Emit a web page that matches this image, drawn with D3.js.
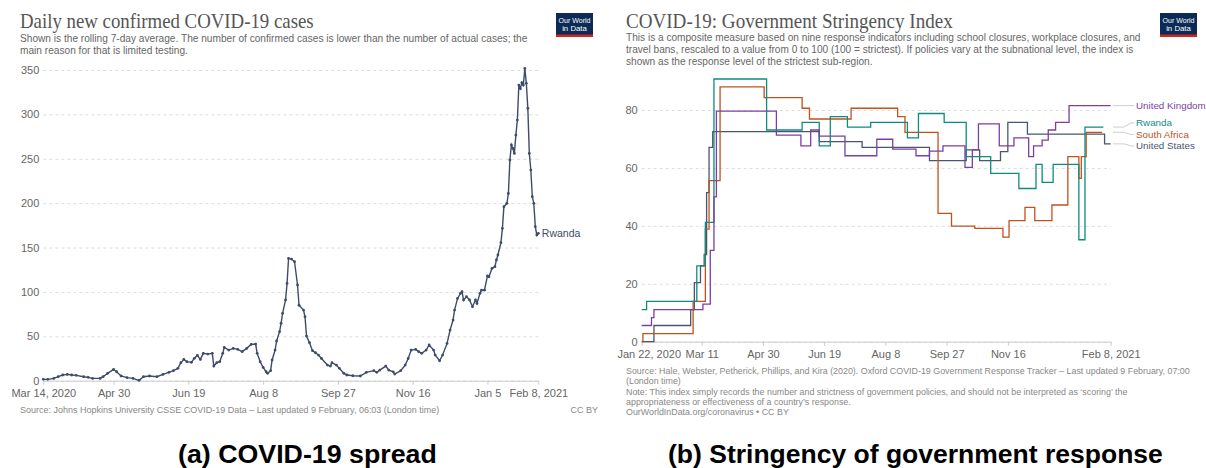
<!DOCTYPE html>
<html>
<head>
<meta charset="utf-8">
<script src="https://cdn.jsdelivr.net/npm/d3@7"></script>
<style>
  body { margin: 0; background: #fff; }
  svg { font-family: "Liberation Sans", Arial, sans-serif; }
</style>
</head>
<body>
<svg id="chart" width="1206" height="468"></svg>
<script>
// ---------- Daily new confirmed cases, Rwanda (7-day rolling average) ----------
// day offsets counted from 14 March 2020
const caseStart = "2020-03-14";
const caseDay = [0,3,7,10,13,16,19,22,27,30,33,38,40,43,47,49,52,56,60,64,67,71,76,80,84,87,90,92,94,96,
  99,101,103,105,107,110,113,114,116,118,120,121,124,127,130,133,136,139,142,143,145,147,149,150,152,153,155,156,158,159,
  160,162,163,164,166,168,170,171,174,175,176,178,180,182,184,186,190,192,193,196,198,201,203,207,212,216,221,223,225,229,
  231,234,235,239,242,244,246,249,251,253,256,258,261,262,265,267,270,272,274,275,277,279,280,281,283,285,287,289,290,292,
  293,295,297,298,300,302,303,304,306,307,308,310,311,312,313,314,315,316,317,318,319,320,321,322,323,324,325,326,327,328,
  329,330,331];
const caseValue = [1.5,1.5,2.6,4.5,6.4,7.1,6.4,6.0,4.5,3.8,2.6,2.6,4.5,8.3,12.8,10.1,5.3,3.4,2.6,0.4,4.5,5.3,4.5,7.1,9.4,11.3,13.9,20.3,24.0,21.4,
  20.7,25.2,28.5,24.0,30.8,30.0,30.8,16.5,20.3,21.4,30.8,37.5,34.5,36.4,35.3,32.7,36.4,40.9,41.3,30.8,21.4,15.0,10.1,8.3,11.3,23.3,34.5,44.7,55.2,64.6,
  75.9,90.9,109.6,137.8,137.0,134.0,107.8,85.0,79.6,72.0,50.3,42.8,33.8,31.5,28.9,25.0,17.6,16.5,20.3,17.6,13.9,8.3,6.4,5.6,5.3,9.4,11.3,9.4,12.0,16.5,
  12.0,10.0,7.5,11.3,17.6,25.0,34.5,35.3,32.7,30.8,34.5,40.2,34.5,28.9,22.5,28.9,42.0,57.0,68.3,79.6,92.7,98.4,100.3,90.9,94.6,90.9,83.4,90.9,87.1,98.4,
  102.0,102.0,118.0,117.0,126.5,128.4,136.0,141.6,155.5,171.6,196.0,199.8,211.0,248.6,265.5,261.7,256.0,276.7,293.6,333.0,329.0,335.7,333.0,351.8,335.0,306.8,256.0,237.3,207.3,199.8,
  173.5,164.0,166.0];
const caseXTicks = ["2020-03-14","2020-04-30","2020-06-19","2020-08-08","2020-09-27","2020-11-16","2021-01-05","2021-02-08"];
const caseXLabels = ["Mar 14, 2020","Apr 30","Jun 19","Aug 8","Sep 27","Nov 16","Jan 5","Feb 8, 2021"];
const caseYTicks = [0,50,100,150,200,250,300,350];

// ---------- Government Stringency Index (step changes: [day offset from 22 Jan 2020, index]) ----------
const indexStart = "2020-01-22";
const indexEnd = "2021-02-08";
const countries = ["United Kingdom","Rwanda","South Africa","United States"];
const countryColors = ["#7b3fa3","#0f8b80","#c0521c","#4a566e"];
const ukSteps = [[0,5.6],[8,8.3],[10,11.1],[50,13.0],[56,31.5],[59,50.0],[61,79.6],[110,71.3],[130,67.6],[138,73.1],[145,71.0],
  [166,64.2],[192,69.9],[205,66.5],[224,64.2],[235,65.8],[246,67.6],[264,60.2],[270,66.2],[275,75.2],[292,67.6],[304,70.4],
  [316,63.9],[320,67.6],[327,69.6],[332,73.1],[338,75.7],[349,81.5],[383,81.5]];
const rwandaSteps = [[0,11.1],[4,13.9],[45,26.2],[52,41.2],[59,90.7],[102,73.1],[131,75.7],[145,67.6],[154,77.7],[168,74.1],
  [187,75.7],[217,70.4],[226,78.8],[247,75.7],[265,63.9],[285,58.1],[308,52.9],[322,61.2],[327,55.0],[336,61.2],[357,35.2],
  [362,74.1],[377,74.1]];
const southAfricaSteps = [[0,0],[1,2.8],[42,13.9],[52,38.9],[55,55.6],[64,88.0],[100,84.3],[131,80.6],[137,76.9],[171,80.6],
  [209,77.7],[215,72.3],[242,44.3],[253,39.9],[272,39.1],[295,36.1],[300,41.8],[313,46.4],[321,41.8],[335,47.2],[348,63.9],
  [357,56.4],[359,63.9],[363,72.3],[376,72.3]];
const usSteps = [[0,0],[10,5.6],[40,11.1],[43,20.4],[48,26.2],[51,30.1],[53,51.5],[55,67.1],[58,72.5],[145,69.1],[180,67.1],
  [235,62.5],[265,66.2],[276,62.5],[293,65.6],[299,75.7],[315,71.7],[378,68.3],[383,68.3]];
const indexXTicks = ["2020-01-22","2020-03-11","2020-04-30","2020-06-19","2020-08-08","2020-09-27","2020-11-16","2021-02-08"];
const indexXLabels = ["Jan 22, 2020","Mar 11","Apr 30","Jun 19","Aug 8","Sep 27","Nov 16","Feb 8, 2021"];
const indexYTicks = [0,20,40,60,80];

// ---------- drawing ----------
const parse = d3.timeParse("%Y-%m-%d");
const svg = d3.select("#chart");

const SANS = '"Liberation Sans", Arial, sans-serif';
const SERIF = '"Liberation Serif", "Times New Roman", serif';
const INK_TITLE = "#555", INK_SUB = "#666", INK_AXIS = "#666", INK_SRC = "#888";

// text block squeezed horizontally so its first line spans `width`
function textBlock(x, baselines, lines, size, width, opts = {}) {
  const g = svg.append("g");
  const inner = g.append("g");
  lines.forEach((t, i) => {
    const t0 = inner.append("text").attr("x", 0).attr("y", baselines[i]).text(t)
      .attr("font-size", size).attr("fill", opts.fill || INK_SUB)
      .style("font-family", opts.family || SANS);
    if (opts.weight) t0.style("font-weight", opts.weight);
  });
  const natural = inner.select("text").node().getComputedTextLength();
  const sx = width / natural;
  const tx = opts.center ? x - width / 2 : x;
  g.attr("transform", `translate(${tx},0)`);
  inner.attr("transform", `scale(${sx},1)`);
  return g;
}

function logo(x, y) {
  const g = svg.append("g").attr("transform", `translate(${x},${y})`);
  g.append("rect").attr("width", 37).attr("height", 24).attr("fill", "#0b2a55");
  g.append("rect").attr("y", 21.5).attr("width", 37).attr("height", 2.5).attr("fill", "#ce261e");
  g.append("text").attr("x", 18.5).attr("y", 9.5).attr("text-anchor", "middle")
    .attr("font-size", 7.8).attr("fill", "#fff").attr("textLength", 32).attr("lengthAdjust", "spacingAndGlyphs").text("Our World");
  g.append("text").attr("x", 18.5).attr("y", 18).attr("text-anchor", "middle")
    .attr("font-size", 7.8).attr("fill", "#fff").text("in Data");
}

function styleAxis(g) {
  g.attr("font-family", null);
  g.selectAll("text").attr("font-size", 11).attr("fill", INK_AXIS).style("font-family", SANS);
}

// ===== Left panel: daily new confirmed cases =====
{
  const x = d3.scaleTime().domain([parse(caseXTicks[0]), parse(caseXTicks[caseXTicks.length - 1])]).range([43.3, 538.3]);
  const y = d3.scaleLinear().domain([0, 350]).range([380.7, 70]);
  const start = parse(caseStart);
  const data = caseDay.map((d, i) => ({ date: d3.timeDay.offset(start, d), value: caseValue[i] }));

  textBlock(20, [28], ["Daily new confirmed COVID-19 cases"], 20, 294, { family: SERIF, fill: INK_TITLE });
  textBlock(20, [42.5, 54.5], [
    "Shown is the rolling 7-day average. The number of confirmed cases is lower than the number of actual cases; the",
    "main reason for that is limited testing."], 10.5, 508);
  logo(556, 13);

  const yAxis = svg.append("g").attr("transform", "translate(43.3,0)")
    .call(d3.axisLeft(y).tickValues(caseYTicks).tickSize(-(538.3 - 43.3)).tickPadding(4));
  yAxis.select(".domain").remove();
  yAxis.selectAll("line").attr("stroke", "#dcdcdc").attr("stroke-dasharray", "3,3");
  styleAxis(yAxis);

  const xAxis = svg.append("g").attr("transform", "translate(0,380.7)")
    .call(d3.axisBottom(x).tickValues(caseXTicks.map(parse)).tickFormat((d, i) => caseXLabels[i]).tickSize(4).tickPadding(5).tickSizeOuter(0));
  xAxis.select(".domain").attr("stroke", "#ccc");
  xAxis.selectAll("line").attr("stroke", "#ccc");
  styleAxis(xAxis);

  const color = "#3e4c69";
  svg.append("path").datum(data).attr("fill", "none").attr("stroke", color).attr("stroke-width", 1.4)
    .attr("d", d3.line().x(d => x(d.date)).y(d => y(d.value)));
  svg.append("g").selectAll("circle").data(data).join("circle")
    .attr("cx", d => x(d.date)).attr("cy", d => y(d.value)).attr("r", 1.4).attr("fill", color);

  const last = data[data.length - 1];
  svg.append("text").attr("x", x(last.date) + 3.5).attr("y", y(last.value)).attr("dy", "0.35em")
    .attr("font-size", 10.5).attr("fill", color).text("Rwanda");

  textBlock(20, [413], ["Source: Johns Hopkins University CSSE COVID-19 Data – Last updated 9 February, 06:03 (London time)"], 9, 420,
    { fill: INK_SRC });
  svg.append("text").attr("x", 598).attr("y", 413).attr("text-anchor", "end").attr("font-size", 9).attr("fill", INK_SRC).text("CC BY");

  textBlock(307.5, [463], ["(a) COVID-19 spread"], 26, 259, { weight: "bold", fill: "#000", center: true });
}

// ===== Right panel: stringency index =====
{
  const x = d3.scaleTime().domain([parse(indexStart), parse(indexEnd)]).range([641.7, 1110.7]);
  const y = d3.scaleLinear().domain([0, 80]).range([341.7, 110]);
  const start = parse(indexStart);
  const seriesSteps = [ukSteps, rwandaSteps, southAfricaSteps, usSteps];

  textBlock(626, [28], ["COVID-19: Government Stringency Index"], 20, 327, { family: SERIF, fill: INK_TITLE });
  textBlock(626, [41.5, 53.5, 65.5], [
    "This is a composite measure based on nine response indicators including school closures, workplace closures, and",
    "travel bans, rescaled to a value from 0 to 100 (100 = strictest). If policies vary at the subnational level, the index is",
    "shown as the response level of the strictest sub-region."], 10.5, 515);
  logo(1160, 13);

  const yAxis = svg.append("g").attr("transform", "translate(641.7,0)")
    .call(d3.axisLeft(y).tickValues(indexYTicks).tickSize(-(1110.7 - 641.7)).tickPadding(4));
  yAxis.select(".domain").remove();
  yAxis.selectAll("line").attr("stroke", "#dcdcdc").attr("stroke-dasharray", "3,3");
  styleAxis(yAxis);

  const xAxis = svg.append("g").attr("transform", "translate(0,341.7)")
    .call(d3.axisBottom(x).tickValues(indexXTicks.map(parse)).tickFormat((d, i) => indexXLabels[i]).tickSize(4).tickPadding(5).tickSizeOuter(0));
  xAxis.select(".domain").attr("stroke", "#ccc");
  xAxis.selectAll("line").attr("stroke", "#ccc");
  styleAxis(xAxis);
  xAxis.select(".tick text").attr("dx", 7);

  const stepLine = d3.line().curve(d3.curveStepAfter).x(d => x(d3.timeDay.offset(start, d[0]))).y(d => y(d[1]));
  // draw order: US underneath, UK on top
  [3, 2, 1, 0].forEach(i => {
    svg.append("path").attr("fill", "none").attr("stroke", countryColors[i]).attr("stroke-width", 1.3)
      .attr("d", stepLine(seriesSteps[i]));
  });

  // end labels with simple collision avoidance
  const labels = countries.map((name, i) => {
    const s = seriesSteps[i];
    const v = s[s.length - 1][1];
    return { name, color: countryColors[i], y0: y(v), y: y(v) };
  }).sort((a, b) => a.y0 - b.y0);
  const gap = 11.5;
  let groups = labels.map(l => [l]);
  let merged = true;
  while (merged) {
    merged = false;
    for (let i = 0; i < groups.length - 1; i++) {
      const a = groups[i], b = groups[i + 1];
      if (b[0].y - a[a.length - 1].y < gap) {
        const g = a.concat(b);
        const mean = d3.mean(g, d => d.y0);
        const offset = mean - (g.length - 1) * gap / 2;
        g.forEach((d, k) => d.y = offset + k * gap);
        groups.splice(i, 2, g);
        merged = true;
        break;
      }
    }
  }
  const lx0 = 1113, lx1 = 1124, lx2 = 1131, lx3 = 1134, tx = 1136;
  labels.forEach(l => {
    svg.append("path").attr("fill", "none").attr("stroke", "#cfcfcf").attr("stroke-width", 1)
      .attr("d", `M${lx0},${l.y0}H${lx1}L${lx2},${l.y}H${lx3}`);
    svg.append("text").attr("x", tx).attr("y", l.y).attr("dy", "0.35em").attr("font-size", 9.8)
      .attr("fill", l.color).text(l.name);
  });

  textBlock(626, [374, 384.5, 395, 405, 415.5], [
    "Source: Hale, Webster, Petherick, Phillips, and Kira (2020). Oxford COVID-19 Government Response Tracker – Last updated 9 February, 07:00",
    "(London time)",
    "Note: This index simply records the number and strictness of government policies, and should not be interpreted as ‘scoring’ the",
    "appropriateness or effectiveness of a country’s response.",
    "OurWorldInData.org/coronavirus • CC BY"], 9, 564, { fill: INK_SRC });

  textBlock(915.5, [463], ["(b) Stringency of government response"], 26, 495, { weight: "bold", fill: "#000", center: true });
}
</script>
</body>
</html>
